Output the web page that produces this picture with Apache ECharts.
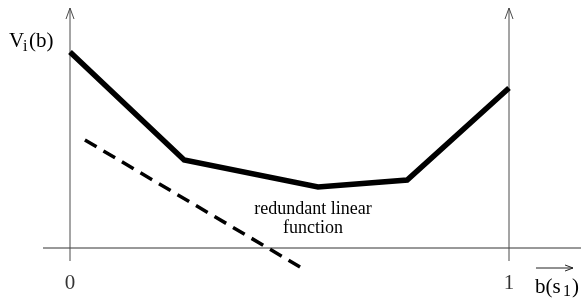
<!DOCTYPE html>
<html>
<head>
<meta charset="utf-8">
<script src="https://cdn.jsdelivr.net/npm/echarts@6/dist/echarts.min.js"></script>
<style>html,body{margin:0;padding:0;background:#fff}#c{width:581px;height:301px}</style>
</head>
<body>
<div id="c"></div>
<script>
// belief b(s1) positions and value V_i(b) of the upper envelope (bold)
var envelopeB = [0, 0.26, 0.565, 0.768, 1];
var envelopeV = [1.96, 0.88, 0.61, 0.68, 1.60];
// redundant linear function (dashed)
var redundantB = [0.034, 0.524];
var redundantV = [1.08, -0.19];
// axis frame
var leftAxisB = [0, 0];
var rightAxisB = [1, 1];
var verticalAxisV = [-0.13, 2.40];
var horizAxisB = [-0.0615, 1.164];
var horizAxisV = [0, 0];
// tick labels
var tickLabels = ['0', '1'];
var tickB = [0, 1];

function pairs(xs, ys) { return xs.map(function (x, i) { return [x, ys[i]]; }); }

var chart = echarts.init(document.getElementById('c'), null, {renderer: 'canvas'});
var axisColor = '#4a4a4a';
var font = '"Liberation Serif", "Times New Roman", serif';

function upArrow(bx, topV) {
  return [[bx - 4 / 439, topV - 0.11], [bx, topV], [bx + 4 / 439, topV - 0.11]];
}

var series = [
  {type: 'line', data: pairs(horizAxisB, horizAxisV), symbol: 'none', lineStyle: {color: '#333', width: 1}, silent: true},
  {type: 'line', data: pairs(leftAxisB, verticalAxisV), symbol: 'none', lineStyle: {color: axisColor, width: 1}, silent: true},
  {type: 'line', data: pairs(rightAxisB, verticalAxisV), symbol: 'none', lineStyle: {color: axisColor, width: 1}, silent: true},
  {type: 'line', data: upArrow(leftAxisB[0], verticalAxisV[1]), symbol: 'none', lineStyle: {color: axisColor, width: 1}, silent: true},
  {type: 'line', data: upArrow(rightAxisB[0], verticalAxisV[1]), symbol: 'none', lineStyle: {color: axisColor, width: 1}, silent: true},
  {type: 'line', data: pairs(envelopeB, envelopeV), symbol: 'none', lineStyle: {color: '#000', width: 5.5, join: 'miter'}, silent: true},
  {type: 'line', data: pairs(redundantB, redundantV), symbol: 'none', lineStyle: {color: '#000', width: 3.5, type: [13.5, 8]}, silent: true},
  {type: 'line', data: [[1.0615, -0.20], [1.1458, -0.20]], symbol: 'none', lineStyle: {color: '#222', width: 1}, silent: true},
  {type: 'line', data: [[1.1276, -0.17], [1.1458, -0.20], [1.1276, -0.23]], symbol: 'none', lineStyle: {color: '#222', width: 1}, silent: true},
  {type: 'scatter', data: pairs(tickB, [-0.355, -0.355]), symbolSize: 0,
   label: {show: true, position: 'inside', formatter: function (p) { return tickLabels[p.dataIndex]; },
           color: '#000', fontSize: 21, fontFamily: font}, silent: true}
];

chart.setOption({
  animation: false,
  backgroundColor: '#fff',
  grid: {left: 0, right: 0, top: 0, bottom: 0},
  xAxis: {type: 'value', min: -70 / 439, max: 511 / 439, show: false},
  yAxis: {type: 'value', min: -0.53, max: 2.48, show: false},
  series: series,
  graphic: [
    {type: 'text', left: 9, top: 31, style: {text: 'V', font: '21px ' + font, fill: '#000'}},
    {type: 'text', left: 23, top: 39, style: {text: 'i', font: '16px ' + font, fill: '#000'}},
    {type: 'text', left: 29, top: 31, style: {text: '(b)', font: '21px ' + font, fill: '#000'}},
    {type: 'text', left: 535, top: 277, style: {text: 'b(s', font: '21px ' + font, fill: '#000'}},
    {type: 'text', left: 563, top: 284, style: {text: '1', font: '16px ' + font, fill: '#000'}},
    {type: 'text', left: 572, top: 277, style: {text: ')', font: '21px ' + font, fill: '#000'}},
    {type: 'text', left: 253, top: 200, style: {text: 'redundant linear\nfunction', font: '18px ' + font, fill: '#000', textAlign: 'center', lineHeight: 19, width: 120}}
  ]
});
</script>
</body>
</html>
